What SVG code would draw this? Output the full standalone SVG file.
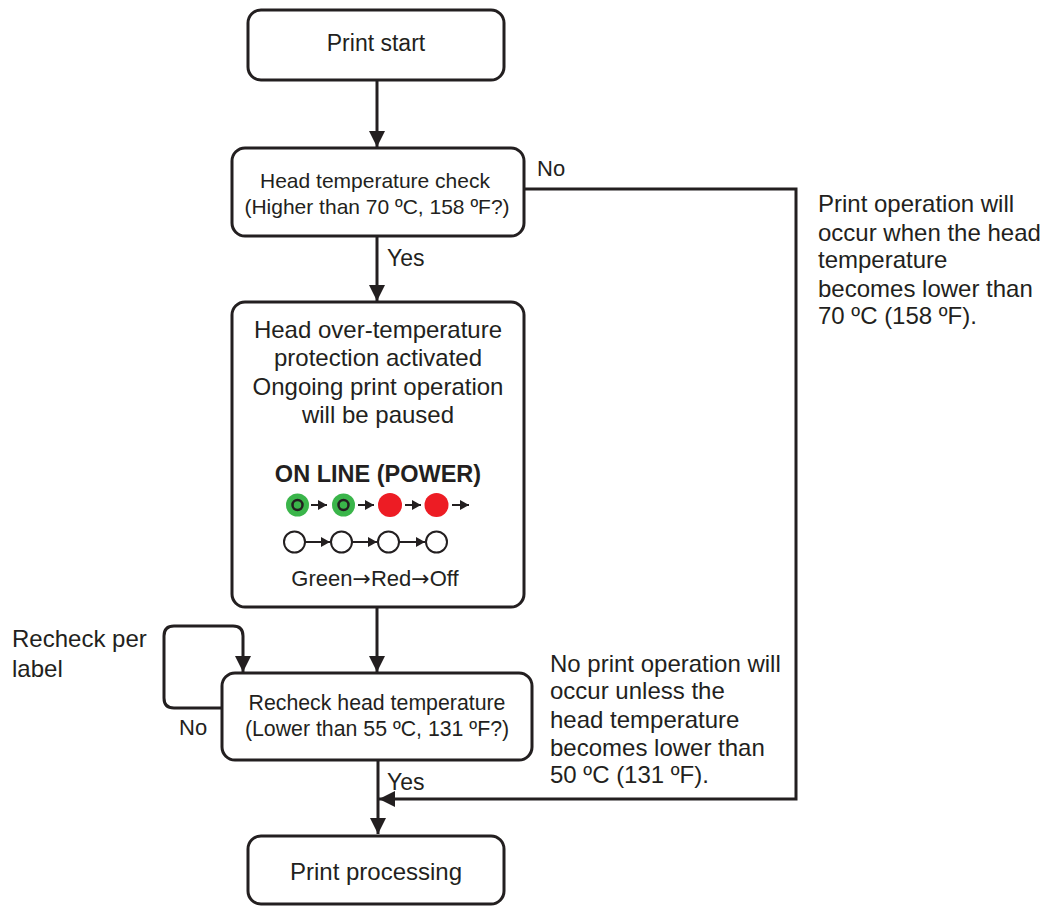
<svg xmlns="http://www.w3.org/2000/svg" width="1046" height="906" viewBox="0 0 1046 906">
<defs>
<style>
.box{fill:#fff;stroke:#231f20;stroke-width:3}
.t{font-family:"Liberation Sans",Arial,sans-serif;fill:#231f20}
.c{text-anchor:middle}
.line{fill:none;stroke:#231f20;stroke-width:3}
.sm{fill:none;stroke:#231f20;stroke-width:2}
.arw{font-family:"DejaVu Sans",sans-serif}
</style>
<marker id="ah" markerWidth="16" markerHeight="16" viewBox="0 0 16 16" refX="16" refY="8" orient="auto" markerUnits="userSpaceOnUse">
<path d="M0,0 L16,8 L0,16 Z" fill="#231f20"/>
</marker>
<marker id="sa" markerWidth="9" markerHeight="10" viewBox="0 0 9 10" refX="9" refY="5" orient="auto" markerUnits="userSpaceOnUse">
<path d="M0,0 L9,5 L0,10 Z" fill="#231f20"/>
</marker>
</defs>

<g id="connectors">
<line class="line" x1="377" y1="81" x2="377" y2="147" marker-end="url(#ah)"/>
<line class="line" x1="377" y1="236" x2="377" y2="301" marker-end="url(#ah)"/>
<line class="line" x1="377" y1="607" x2="377" y2="672" marker-end="url(#ah)"/>
<path class="line" d="M222,708 H174 Q164,708 164,698 V636 Q164,626 174,626 H233 Q243,626 243,636 V672" marker-end="url(#ah)"/>
<line class="line" x1="378" y1="760" x2="378" y2="834" marker-end="url(#ah)"/>
<path class="line" d="M524,189 H796 V799 H379" marker-end="url(#ah)"/>
</g>

<g id="print-start">
<rect class="box" x="248" y="10" width="256" height="70" rx="13"/>
<text class="t c" x="376" y="51" font-size="23">Print start</text>
</g>

<g id="head-check">
<rect class="box" x="232" y="148" width="292" height="88" rx="13"/>
<text class="t c" x="375" y="188" font-size="21">Head temperature check</text>
<text class="t c" x="377" y="214" font-size="21">(Higher than 70 ºC, 158 ºF?)</text>
</g>
<text class="t" x="537" y="176" font-size="22">No</text>
<text class="t" x="387" y="266" font-size="23">Yes</text>

<g id="protection">
<rect class="box" x="232" y="302" width="292" height="305" rx="13"/>
<text class="t c" x="378" y="338" font-size="24">Head over-temperature</text>
<text class="t c" x="378" y="366" font-size="24">protection activated</text>
<text class="t c" x="378" y="395" font-size="24">Ongoing print operation</text>
<text class="t c" x="378" y="423" font-size="24">will be paused</text>
<text class="t c" x="378" y="482" font-size="23.5" font-weight="bold">ON LINE (POWER)</text>
<g id="led-row1">
<circle cx="297.5" cy="505" r="11.5" fill="#3ab54a"/>
<circle cx="297.5" cy="505" r="5" fill="none" stroke="#231f20" stroke-width="2.5"/>
<line class="sm" x1="311" y1="505" x2="327" y2="505" marker-end="url(#sa)"/>
<circle cx="343.5" cy="505" r="11.5" fill="#3ab54a"/>
<circle cx="343.5" cy="505" r="5" fill="none" stroke="#231f20" stroke-width="2.5"/>
<line class="sm" x1="358" y1="505" x2="374" y2="505" marker-end="url(#sa)"/>
<circle cx="390" cy="505" r="12" fill="#ed1c24"/>
<line class="sm" x1="405" y1="505" x2="421" y2="505" marker-end="url(#sa)"/>
<circle cx="436.5" cy="505" r="12" fill="#ed1c24"/>
<line class="sm" x1="452" y1="505" x2="469" y2="505" marker-end="url(#sa)"/>
</g>
<g id="led-row2">
<circle cx="294.5" cy="542" r="10.5" fill="#fff" stroke="#231f20" stroke-width="2"/>
<line class="sm" x1="305" y1="542" x2="330" y2="542" marker-end="url(#sa)"/>
<circle cx="341.5" cy="542" r="10.5" fill="#fff" stroke="#231f20" stroke-width="2"/>
<line class="sm" x1="352" y1="542" x2="377" y2="542" marker-end="url(#sa)"/>
<circle cx="388.5" cy="542" r="10.5" fill="#fff" stroke="#231f20" stroke-width="2"/>
<line class="sm" x1="399" y1="542" x2="425" y2="542" marker-end="url(#sa)"/>
<circle cx="436.5" cy="542" r="10.5" fill="#fff" stroke="#231f20" stroke-width="2"/>
</g>
<text class="t c" x="375" y="586" font-size="22">Green<tspan class="arw">→</tspan>Red<tspan class="arw">→</tspan>Off</text>
</g>

<g id="recheck">
<rect class="box" x="222" y="673" width="310" height="87" rx="13"/>
<text class="t c" x="377" y="710" font-size="21.3">Recheck head temperature</text>
<text class="t c" x="377" y="736" font-size="21.3">(Lower than 55 ºC, 131 ºF?)</text>
</g>
<text class="t" x="12" y="647" font-size="24">Recheck per</text>
<text class="t" x="12" y="677" font-size="24">label</text>
<text class="t" x="179" y="735" font-size="22">No</text>
<text class="t" x="387" y="790" font-size="23">Yes</text>

<g id="print-processing">
<rect class="box" x="248" y="836" width="256" height="68" rx="13"/>
<text class="t c" x="376" y="880" font-size="24">Print processing</text>
</g>

<g id="note-right">
<text class="t" x="818" y="212" font-size="24">Print operation will</text>
<text class="t" x="818" y="241" font-size="24">occur when the head</text>
<text class="t" x="818" y="268" font-size="24">temperature</text>
<text class="t" x="818" y="297" font-size="24">becomes lower than</text>
<text class="t" x="818" y="324" font-size="24">70 ºC (158 ºF).</text>
</g>
<g id="note-middle">
<text class="t" x="550" y="672" font-size="24">No print operation will</text>
<text class="t" x="550" y="699" font-size="24">occur unless the</text>
<text class="t" x="550" y="728" font-size="24">head temperature</text>
<text class="t" x="550" y="756" font-size="24">becomes lower than</text>
<text class="t" x="550" y="783" font-size="24">50 ºC (131 ºF).</text>
</g>
</svg>
